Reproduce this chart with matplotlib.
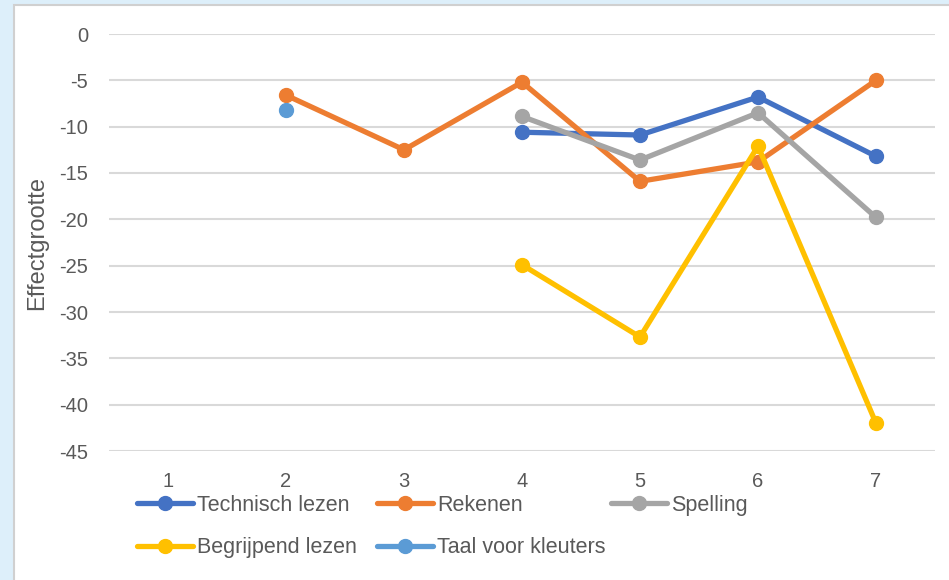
import matplotlib.pyplot as plt
from matplotlib.patches import Rectangle

x = [1, 2, 3, 4, 5, 6, 7]
nan = float('nan')
technisch = [nan, nan, nan, -10.6, -10.9, -6.8, -13.2]
rekenen = [nan, -6.6, -12.5, -5.2, -15.9, -13.8, -5.0]
spelling = [nan, nan, nan, -8.9, -13.6, -8.5, -19.8]
begrijpend = [nan, nan, nan, -24.9, -32.7, -12.1, -42.0]
taal = [nan, -8.2, nan, nan, nan, nan, nan]

series = [
    ('Technisch lezen', technisch, '#4472C4'),
    ('Rekenen', rekenen, '#ED7D31'),
    ('Spelling', spelling, '#A5A5A5'),
    ('Begrijpend lezen', begrijpend, '#FFC000'),
    ('Taal voor kleuters', taal, '#5B9BD5'),
]

plt.rcParams['font.family'] = ['Liberation Sans', 'DejaVu Sans']
plt.rcParams['axes.unicode_minus'] = False
txt = '#595959'

fig = plt.figure(figsize=(9.49, 5.8), dpi=100)
fig.patch.set_facecolor('#DDEFFA')
fig.patches.append(Rectangle((14 / 949, -0.1), 1.1, 1 - 5 / 580 + 0.1,
                             transform=fig.transFigure, facecolor='white',
                             edgecolor='#D0D0D0', linewidth=1.5, zorder=-5))

ax = fig.add_axes([109 / 949, 1 - 451 / 580, 826 / 949, 417 / 580])
ax.set_facecolor('none')

handles = []
for name, vals, col in series:
    h, = ax.plot(x, vals, color=col, linewidth=3.8, marker='o', markersize=10,
                 solid_capstyle='round', label=name, clip_on=False)
    handles.append(h)

ax.set_xlim(0.5, 7.5)
ax.set_ylim(-45, 0)
ax.set_yticks(range(-45, 1, 5))
ax.set_xticks(x)
ax.grid(axis='y', color='#D9D9D9', linewidth=1.5)
ax.set_axisbelow(True)
for s in ax.spines.values():
    s.set_visible(False)
ax.tick_params(length=0, labelsize=14.5, colors=txt)
ax.tick_params(axis='y', pad=15)
ax.tick_params(axis='x', pad=15)
ax.set_ylabel('Effectgrootte', fontsize=17, color=txt, labelpad=8)

# legend in three columns, placed like the original
columns = [([handles[0], handles[3]], 128), ([handles[1], handles[4]], 368),
           ([handles[2]], 602)]
for hs, xpos in columns:
    fig.legend(handles=hs, loc='upper left',
               bbox_to_anchor=(xpos / 949, 1 - 486 / 580), frameon=False,
               fontsize=15.5, labelcolor=txt, handlelength=2.6,
               handletextpad=0.2, labelspacing=1.0, borderaxespad=0)

fig.savefig('out.png', dpi=100, facecolor=fig.get_facecolor())
